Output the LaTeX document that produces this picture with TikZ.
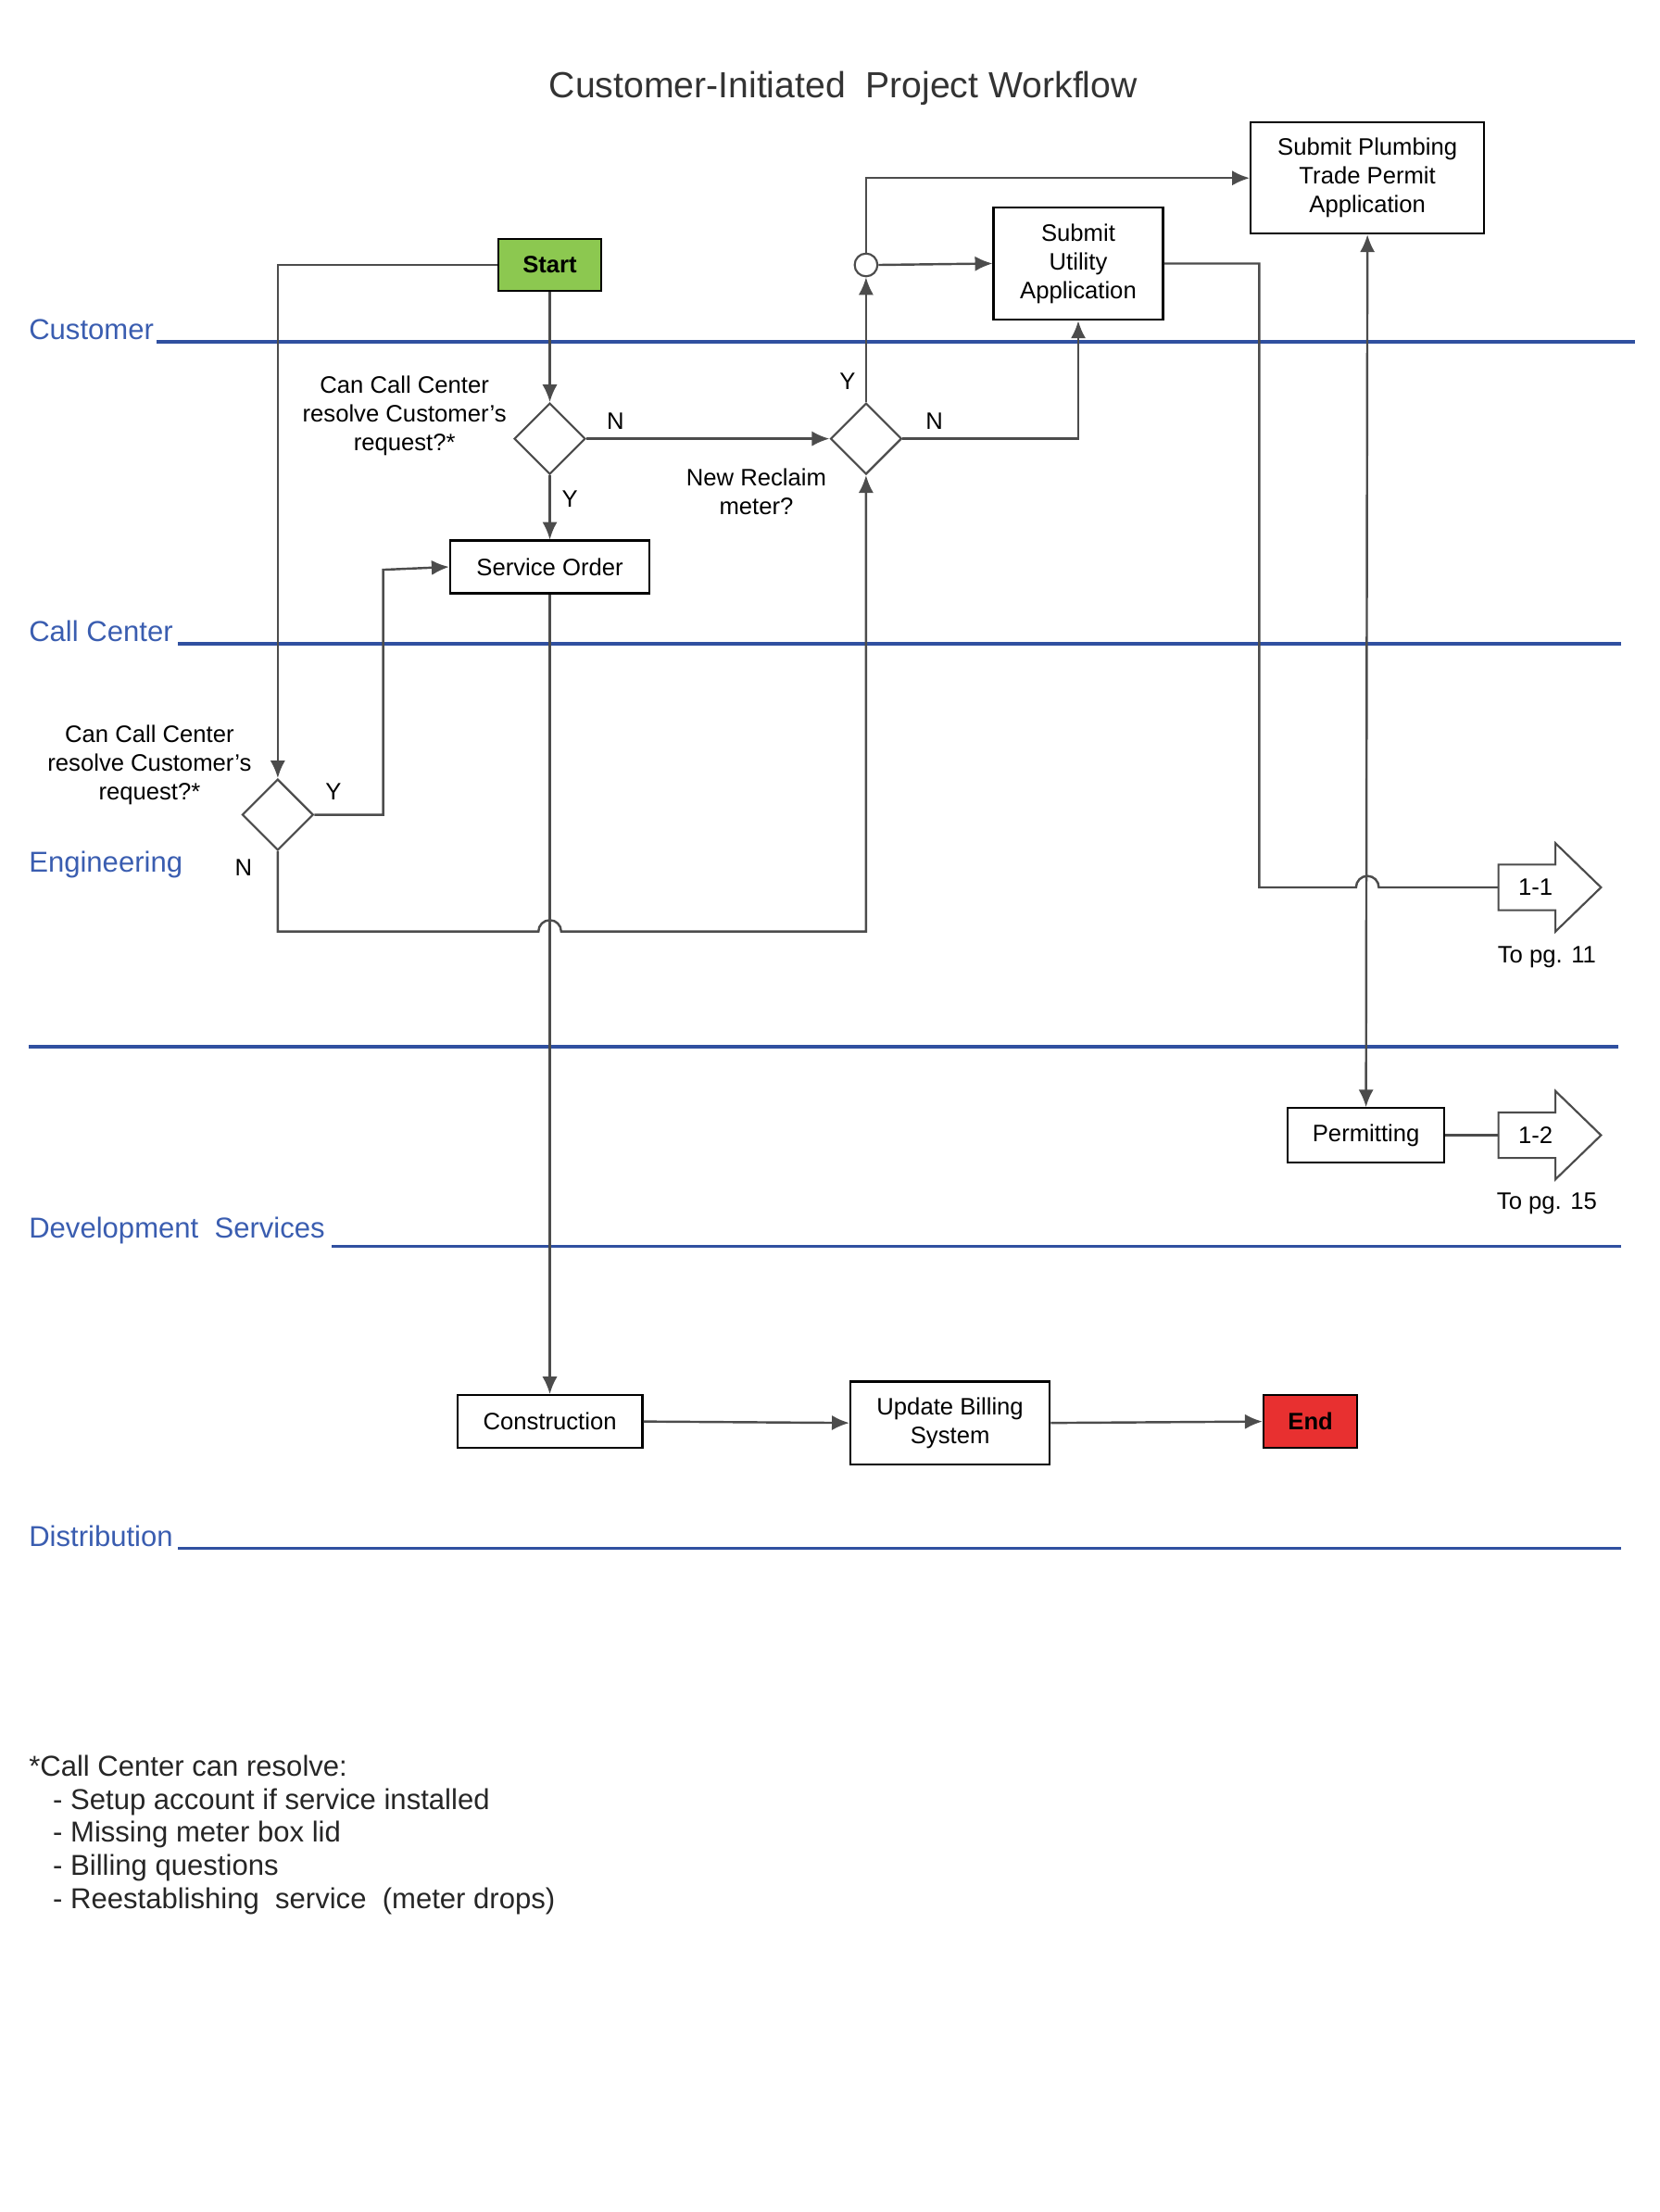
\documentclass[tikz,border=0pt]{standalone}
\usepackage{fontspec}
\setmainfont{Liberation Sans}
\usetikzlibrary{shapes.geometric,arrows.meta}
\definecolor{lanec}{HTML}{3050A0}
\definecolor{lanet}{HTML}{3A5DB0}
\definecolor{startg}{HTML}{8CC850}
\definecolor{endr}{HTML}{E83030}
\begin{document}
\begin{tikzpicture}[x=0.02cm,y=-0.02cm,
 box/.style={draw=black,line width=0.8pt,fill=white,align=center,font=\fontsize{9.5}{11.5}\selectfont,inner sep=2pt},
 dia/.style={draw=black!70,line width=0.8pt,diamond,minimum width=1cm,minimum height=1cm,inner sep=0pt,fill=white},
 lbl/.style={align=center,font=\fontsize{9.5}{11.5}\selectfont},
 lane/.style={draw=lanec,line width=1.4pt},
 lanetxt/.style={anchor=south west,text=lanet,font=\fontsize{11.5}{14}\selectfont,inner sep=0pt},
 ed/.style={draw=black!70,line width=0.9pt},
 ar/.style={ed,-{Latex[length=7pt,width=6pt]}},
 cn/.style={draw=black!70,line width=0.8pt,fill=white}]
\useasboundingbox (0,0) rectangle (1165,1553);
\node[font=\fontsize{14.5}{18}\selectfont,text=black!80] (title) at (592,62) {Customer-Initiated\ \ Project Workflow};
% lanes
\node[lanetxt] (l1) at (20,239) {Customer};
\draw[lane] (110,240) -- (1148,240);
\node[lanetxt] (l2) at (20,451) {Call Center};
\draw[lane] (125,452) -- (1138,452);
\node[lanetxt] (l3) at (20,617) {Engineering};
\draw[lane] (20,735) -- (1136,735);
\node[lanetxt] (l4) at (20,874) {Development\ \ Services};
\draw[lane] (233,875) -- (1138,875);
\node[lanetxt] (l5) at (20,1086) {Distribution};
\draw[lane] (125,1087) -- (1138,1087);
% nodes
\node[box,fill=startg,minimum width=1.44cm,minimum height=0.72cm,font=\bfseries\fontsize{9.5}{11.5}\selectfont] (start) at (386,186) {Start};
\node[dia] (d1) at (386,308) {};
\node[lbl] (t1) at (284,292) {Can Call Center\\resolve Customer's\\request?*};
\node[box,minimum width=2.8cm,minimum height=0.74cm] (so) at (386,398) {Service Order};
\node[dia] (d2) at (608,308) {};
\node[lbl] (t2) at (531,345) {New Reclaim\\meter?};
\node[draw=black!70,line width=0.8pt,circle,minimum size=0.32cm,inner sep=0pt,fill=white] (c) at (608,186) {};
\node[box,minimum width=2.38cm,minimum height=1.58cm] (su) at (757,185) {Submit\\Utility\\Application};
\node[box,minimum width=3.28cm,minimum height=1.56cm] (sp) at (960,125) {Submit Plumbing\\Trade Permit\\Application};
\node[dia] (d3) at (195,572) {};
\node[lbl] (t3) at (105,537) {Can Call Center\\resolve Customer's\\request?*};
\node[box,minimum width=2.2cm,minimum height=0.76cm] (pm) at (959,797) {Permitting};
\node[box,minimum width=2.6cm,minimum height=0.74cm] (co) at (386,998) {Construction};
\node[box,minimum width=2.8cm,minimum height=1.16cm] (ub) at (667,999) {Update Billing\\System};
\node[box,fill=endr,minimum width=1.32cm,minimum height=0.74cm,font=\bfseries\fontsize{9.5}{11.5}\selectfont] (end) at (920,998) {End};
% off-page connectors
\draw[cn] (1052,607) -- (1092,607) -- (1092,592) -- (1124,623) -- (1092,654) -- (1092,639) -- (1052,639) -- cycle;
\node[lbl] (k1) at (1078,623) {1-1};
\coordinate (k1w) at (1052,623);
\node[lbl] (p1) at (1086,672) {To pg. 11};
\draw[cn] (1052,781) -- (1092,781) -- (1092,766) -- (1124,797) -- (1092,828) -- (1092,813) -- (1052,813) -- cycle;
\node[lbl] (k2) at (1078,797) {1-2};
\coordinate (k2w) at (1052,797);
\node[lbl] (p2) at (1086,845) {To pg. 15};
% labels
\node[lbl] (n1) at (432,296) {N};
\node[lbl] (y1) at (400,350) {Y};
\node[lbl] (y2) at (595,268) {Y};
\node[lbl] (n2) at (656,296) {N};
\node[lbl] (y3) at (234,556) {Y};
\node[lbl] (n3) at (171,609) {N};
% edges
\draw[ar] (start.west) -- (195,186) -- (d3.north);
\draw[ar] (start.south) -- (d1.north);
\draw[ar] (d1.east) -- (d2.west);
\draw[ar] (d1.south) -- (so.north);
\draw[ar] (d2.north) -- (c.south);
\draw[ar] (c.east) -- (su.west);
\draw[ar] (c.north) -- (608,125) -- (sp.west);
\draw[ar] (d2.east) -- (757,308) -- (su.south);
\draw[ed] (su.east) -- (884,185) -- (884,623) -- (952,623) arc[start angle=180,end angle=0,radius=0.16cm] -- (k1w);
\draw[ed,{Latex[length=7pt,width=6pt]}-{Latex[length=7pt,width=6pt]}] (sp.south) -- (pm.north);
\draw[ar] (d3.east) -- (269,572) -- (269,400) -- (so.west);
\draw[ar] (d3.south) -- (195,654) -- (378,654) arc[start angle=180,end angle=0,radius=0.16cm] -- (608,654) -- (d2.south);
\draw[ar] (so.south) -- (co.north);
\draw[ar] (co.east) -- (ub.west);
\draw[ar] (ub.east) -- (end.west);
\draw[ed] (pm.east) -- (k2w);
% footnote
\node[anchor=north west,align=left,inner sep=0pt,font=\fontsize{11.5}{13.2}\selectfont,text=black!85] (fn) at (20,1232) {*Call Center can resolve:\\
\ \ \ - Setup account if service installed\\
\ \ \ - Missing meter box lid\\
\ \ \ - Billing questions\\
\ \ \ - Reestablishing\ \ service\ \ (meter drops)};
\end{tikzpicture}
\end{document}
